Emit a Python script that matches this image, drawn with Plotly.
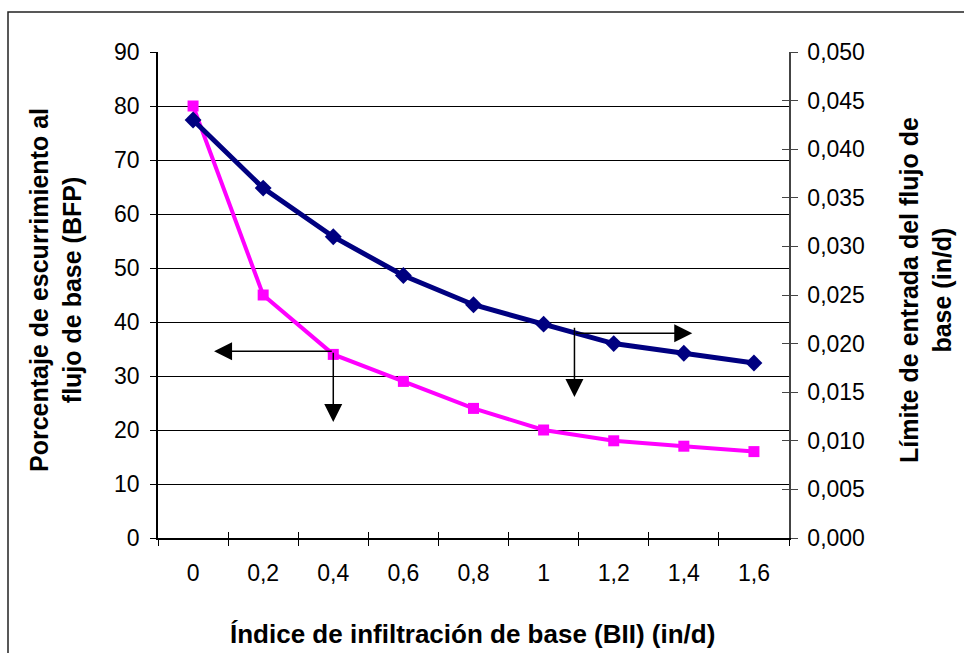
import plotly.graph_objects as go

categories = ["0", "0,2", "0,4", "0,6", "0,8", "1", "1,2", "1,4", "1,6"]
bfp_values = [80, 45, 34, 29, 24, 20, 18, 17, 16]
limit_values = [0.043, 0.036, 0.031, 0.027, 0.024, 0.022, 0.020, 0.019, 0.018]
left_ticks = [0, 10, 20, 30, 40, 50, 60, 70, 80, 90]
right_ticks = [0.0, 0.005, 0.010, 0.015, 0.020, 0.025, 0.030, 0.035, 0.040, 0.045, 0.050]

FONT = "Liberation Sans, Arial, sans-serif"
W, H = 964, 653
L, R, T, B = 158, 789, 52, 538
TICK_FS = 23

fig = go.Figure()
fig.add_trace(go.Scatter(
    x=categories, y=bfp_values, mode="lines+markers", yaxis="y",
    line=dict(color="#FF00FF", width=4),
    marker=dict(symbol="square", size=11, color="#FF00FF"),
    showlegend=False, cliponaxis=False, hoverinfo="skip"))
fig.add_trace(go.Scatter(
    x=categories, y=limit_values, mode="lines+markers", yaxis="y2",
    line=dict(color="#000080", width=5),
    marker=dict(symbol="diamond", size=13, color="#000080"),
    showlegend=False, cliponaxis=False, hoverinfo="skip"))
# invisible helpers so the inner halves of the crossing tick marks get drawn
fig.add_trace(go.Scatter(x=categories, y=limit_values, xaxis="x2", yaxis="y3",
                         mode="markers", marker=dict(opacity=0), showlegend=False,
                         hoverinfo="skip"))

def px2x(px):
    return (px - L) / (R - L)

def px2y(py):
    return (B - py) / (B - T)

annotations = [
    dict(xref="paper", yref="paper", x=px2x(55), y=px2y(290), textangle=-90,
         text="<b>Porcentaje de escurrimiento al<br>flujo de base (BFP)</b>",
         showarrow=False, font=dict(family=FONT, size=25, color="black"),
         xanchor="center", yanchor="middle"),
    dict(xref="paper", yref="paper", x=px2x(925), y=px2y(290), textangle=-90,
         text="<b>Límite de entrada del flujo de<br>base (in/d)</b>",
         showarrow=False, font=dict(family=FONT, size=25, color="black"),
         xanchor="center", yanchor="middle"),
    dict(xref="paper", yref="paper", x=px2x(472), y=px2y(634),
         text="<b>Índice de infiltración de base (BII) (in/d)</b>",
         showarrow=False, font=dict(family=FONT, size=26, color="black"),
         xanchor="center", yanchor="middle"),
]

arrow_style = dict(showarrow=True, text="", xref="x", yref="y", axref="x", ayref="y",
                   arrowhead=2, arrowsize=2.4, arrowwidth=1.5, arrowcolor="black",
                   standoff=0, startstandoff=0)
# left-pointing and down-pointing arrows (for the BFP series)
annotations.append(dict(x=0.3, y=34.6, ax=2.0, ay=34.6, **arrow_style))
annotations.append(dict(x=2.0, y=21.5, ax=2.0, ay=34.6, **arrow_style))
# right-pointing and down-pointing arrows (for the limit series)
annotations.append(dict(x=7.12, y=37.9, ax=5.44, ay=37.9, **arrow_style))
annotations.append(dict(x=5.44, y=26.1, ax=5.44, ay=39.2, **arrow_style))

tickfont = dict(family=FONT, size=TICK_FS, color="black")

fig.update_layout(
    width=W, height=H,
    margin=dict(l=L, r=W - R, t=T, b=H - B, pad=0),
    paper_bgcolor="white", plot_bgcolor="white",
    separators=",.",
    font=dict(family=FONT, size=TICK_FS, color="black"),
    hovermode=False,
    xaxis=dict(type="category", range=[-0.5, 8.5], showgrid=False,
               showline=True, linecolor="black", linewidth=1.5,
               ticks="outside", ticklen=6, tickcolor="black", tickson="boundaries",
               ticklabelstandoff=14, tickfont=tickfont,
               zeroline=False, fixedrange=True),
    xaxis2=dict(type="category", range=[-0.5, 8.5], overlaying="x", anchor="y",
                showgrid=False, showline=False, ticks="inside", ticklen=6,
                tickcolor="black", tickson="boundaries", showticklabels=False,
                zeroline=False),
    yaxis=dict(range=[0, 90], tickvals=left_ticks, showgrid=True, gridcolor="black",
               gridwidth=1, showline=True, linecolor="black", linewidth=1.5,
               ticks="outside", ticklen=6, tickcolor="black",
               ticklabelstandoff=6, tickfont=tickfont,
               zeroline=False),
    yaxis2=dict(range=[0, 0.05], tickvals=right_ticks, tickformat=".3f",
                overlaying="y", side="right", anchor="x", showgrid=False,
                showline=True, linecolor="#444", linewidth=1.5,
                ticks="outside", ticklen=7, tickcolor="#444",
                ticklabelstandoff=5, tickfont=tickfont,
                zeroline=False),
    yaxis3=dict(range=[0, 0.05], tickvals=right_ticks, overlaying="y", side="right",
                anchor="x", showgrid=False, showline=False, ticks="inside", ticklen=7,
                tickcolor="#444", showticklabels=False, zeroline=False),
    annotations=annotations,
    shapes=[dict(type="rect", xref="paper", yref="paper",
                 x0=px2x(8), x1=px2x(975), y0=px2y(12), y1=px2y(665),
                 line=dict(color="#222", width=1.5), fillcolor="rgba(0,0,0,0)", layer="below")],
)

fig.write_html("out.html")
